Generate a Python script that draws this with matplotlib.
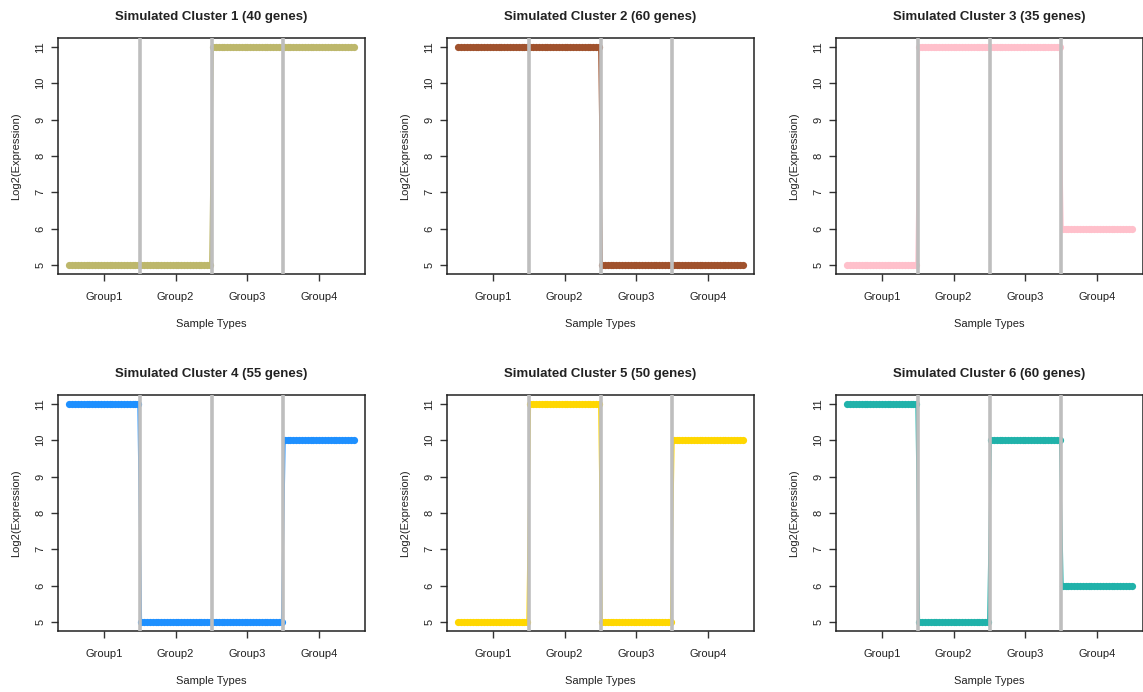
import numpy as np
import matplotlib.pyplot as plt

plt.rcParams['font.family'] = ['Liberation Sans', 'DejaVu Sans']

# cluster definitions: level of each group (all genes in a cluster share the profile)
titles = ['Simulated Cluster 1 (40 genes)', 'Simulated Cluster 2 (60 genes)',
          'Simulated Cluster 3 (35 genes)', 'Simulated Cluster 4 (55 genes)',
          'Simulated Cluster 5 (50 genes)', 'Simulated Cluster 6 (60 genes)']
levels = [[5, 5, 11, 11],
          [11, 11, 5, 5],
          [5, 11, 11, 6],
          [11, 5, 5, 10],
          [5, 11, 5, 10],
          [11, 5, 10, 6]]
colors = ['#BDB76B', '#A0522D', '#FFC0CB', '#1E90FF', '#FFD700', '#20B2AA']
group_names = ['Group1', 'Group2', 'Group3', 'Group4']
n_per_group = 25
yticks = [5, 6, 7, 8, 9, 10, 11]

W, H = 1143, 692
fig = plt.figure(figsize=(W / 100, H / 100), dpi=100)

lefts = [58, 447, 836]
tops = [38, 395]
pw, ph = 307, 236

n = n_per_group * len(group_names)
x = np.arange(1, n + 1)
centers = [(g * n_per_group) + (n_per_group + 1) / 2 for g in range(4)]
bounds = [(g + 1) * n_per_group + 0.5 for g in range(3)]

for i in range(6):
    r, c = divmod(i, 3)
    ax = fig.add_axes([lefts[c] / W, 1 - (tops[r] + ph) / H, pw / W, ph / H])
    y = np.repeat(levels[i], n_per_group)
    ax.plot(x, y, color=colors[i], lw=1.4, marker='o', ms=5.2, mec='none', zorder=2)
    for b in bounds:
        ax.axvline(b, color='#BEBEBE', lw=2.6, zorder=3)
    pad_x = (n - 1) * 0.04
    ax.set_xlim(1 - pad_x, n + pad_x)
    ax.set_ylim(5 - 0.24, 11 + 0.24)
    ax.set_xticks(centers)
    ax.set_xticklabels(group_names, fontsize=8, color='#222222')
    ax.set_yticks(yticks)
    ax.set_yticklabels([str(v) for v in yticks], fontsize=8, rotation=90,
                       va='center', color='#222222')
    ax.tick_params(axis='x', length=5, width=1, pad=8, colors='#333333',
                   labelcolor='#222222')
    ax.tick_params(axis='y', length=5, width=1, pad=4, colors='#333333',
                   labelcolor='#222222')
    for s in ax.spines.values():
        s.set_color('#222222')
        s.set_linewidth(1.1)
    ax.set_xlabel('Sample Types', fontsize=8, color='#222222', labelpad=12)
    ax.set_ylabel('Log2(Expression)', fontsize=8, color='#222222', labelpad=10)
    ax.set_title(titles[i], fontsize=9.5, fontweight='bold', color='#222222', pad=13)

fig.savefig('out.png', dpi=100)
